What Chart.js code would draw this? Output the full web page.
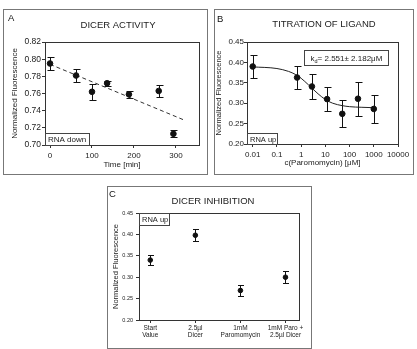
<!DOCTYPE html>
<html>
<head>
<meta charset="utf-8">
<script src="https://cdn.jsdelivr.net/npm/chart.js@4.4.1/dist/chart.umd.min.js"></script>
<style>
body { margin: 0; background: #fff; }
#wrap { position: relative; width: 417px; height: 349px; }
canvas { position: absolute; }
</style>
</head>
<body>
<div id="wrap">
  <canvas id="chartA" width="205" height="166" style="left:3px;top:9px"></canvas>
  <canvas id="chartB" width="200" height="166" style="left:214px;top:9px"></canvas>
  <canvas id="chartC" width="205" height="163" style="left:107px;top:186px"></canvas>
</div>
<script>
// A: dicer activity over time
var timeMin = [0, 62, 100, 136, 188, 259, 294];
var fluorA = [0.795, 0.781, 0.762, 0.772, 0.759, 0.763, 0.713];
var errA = [0.008, 0.008, 0.009, 0.003, 0.004, 0.007, 0.004];
var trendX = [0, 320];
var trendY = [0.794, 0.729];
var ticksAx = [0, 100, 200, 300];
var ticksAy = [0.70, 0.72, 0.74, 0.76, 0.78, 0.80, 0.82];

// B: titration of ligand
var conc = [0.01, 0.68, 2.78, 11.8, 50, 222, 1000];
var fluorB = [0.390, 0.363, 0.341, 0.310, 0.274, 0.311, 0.286];
var errB = [0.029, 0.027, 0.031, 0.029, 0.033, 0.042, 0.034];
var fitX = [0.01, 0.1, 0.3, 0.6, 1, 2, 3, 5, 10, 20, 50, 100, 300, 1000];
var fitY = [0.389, 0.385, 0.378, 0.370, 0.361, 0.345, 0.335, 0.323, 0.309, 0.300, 0.294, 0.2915, 0.290, 0.289];
var ticksBx = [0.01, 0.1, 1, 10, 100, 1000, 10000];
var ticksBxLabels = ['0.01', '0.1', '1', '10', '100', '1000', '10000'];
var ticksBy = [0.20, 0.25, 0.30, 0.35, 0.40, 0.45];

// C: dicer inhibition
var condLabels = [['Start', 'Value'], ['2.5µl', 'Dicer'], ['1mM', 'Paromomycin'], ['1mM Paro +', '2.5µl Dicer']];
var condPos = [0, 1, 2, 3];
var fluorC = [0.340, 0.398, 0.269, 0.300];
var errC = [0.0125, 0.0142, 0.013, 0.0142];
var ticksCy = [0.20, 0.25, 0.30, 0.35, 0.40, 0.45];

Chart.defaults.font.family = '"Liberation Sans", Arial, sans-serif';
Chart.defaults.color = '#222';

function pts(xs, ys) {
  return xs.map(function (x, i) { return { x: x, y: ys[i] }; });
}

var errorBarPlugin = {
  id: 'errorBars',
  beforeDatasetsDraw: function (chart) {
    var ds = chart.data.datasets[0];
    var xs = chart.scales.x, ys = chart.scales.y, ctx = chart.ctx;
    var cap = ds.capWidth || 3;
    ctx.save();
    ctx.strokeStyle = '#111';
    ctx.lineWidth = 1;
    ds.data.forEach(function (p, i) {
      var x = Math.round(xs.getPixelForValue(p.x)) + 0.5;
      var y1 = Math.round(ys.getPixelForValue(p.y + ds.errors[i])) + 0.5;
      var y2 = Math.round(ys.getPixelForValue(p.y - ds.errors[i])) + 0.5;
      ctx.beginPath();
      ctx.moveTo(x, y1); ctx.lineTo(x, y2);
      ctx.moveTo(x - cap, y1); ctx.lineTo(x + cap + 1, y1);
      ctx.moveTo(x - cap, y2); ctx.lineTo(x + cap + 1, y2);
      ctx.stroke();
    });
    ctx.restore();
  }
};

var panelPlugin = {
  id: 'panel',
  afterDraw: function (chart, args, o) {
    var ctx = chart.ctx, a = chart.chartArea;
    var L = Math.round(a.left) + 0.5, T = Math.round(a.top) + 0.5;
    var R = Math.round(a.right) + 0.5, B = Math.round(a.bottom) + 0.5;
    ctx.save();
    ctx.lineWidth = 1;
    ctx.strokeStyle = '#777';
    ctx.strokeRect(0.5, 0.5, chart.width - 1, chart.height - 1);
    ctx.strokeStyle = '#333';
    ctx.strokeRect(L, T, R - L, B - T);

    ctx.fillStyle = '#111';
    ctx.textBaseline = 'top';
    ctx.textAlign = 'left';
    ctx.font = '9.5px "Liberation Sans", Arial, sans-serif';
    ctx.fillText(o.letter, o.letterX, o.letterY);

    ctx.textAlign = 'center';
    ctx.textBaseline = 'middle';
    ctx.font = '9.5px "Liberation Sans", Arial, sans-serif';
    ctx.fillStyle = '#222';
    ctx.fillText(o.title, o.titleX, o.titleY);

    // note box in a corner of the plot
    var ny = o.noteAt === 'top' ? T : B - o.noteH;
    ctx.fillStyle = '#fff';
    ctx.fillRect(L, ny, o.noteW, o.noteH);
    ctx.strokeStyle = '#444';
    ctx.strokeRect(L, ny, o.noteW, o.noteH);
    ctx.fillStyle = '#222';
    ctx.textAlign = 'left';
    ctx.font = o.noteFont + 'px "Liberation Sans", Arial, sans-serif';
    ctx.fillText(o.note, L + 2.5, ny + o.noteH / 2 + 0.5);

    if (o.kd) {
      var kx = L + o.kd.dx, ky = T + o.kd.dy;
      ctx.strokeRect(kx, ky, o.kd.w, o.kd.h);
      var cy = ky + o.kd.h / 2 + 0.5;
      ctx.font = '8px "Liberation Sans", Arial, sans-serif';
      var tx = kx + 6;
      ctx.fillText('k', tx, cy);
      tx += ctx.measureText('k').width;
      ctx.font = '5.5px "Liberation Sans", Arial, sans-serif';
      ctx.fillText('d', tx, cy + 2.5);
      tx += ctx.measureText('d').width;
      ctx.font = '8px "Liberation Sans", Arial, sans-serif';
      ctx.fillText('= 2.551\u00b1 2.182\u03bcM', tx, cy);
    }
    ctx.restore();
  }
};

function axisStyle(extra) {
  var base = {
    grid: { drawOnChartArea: false, drawTicks: true, tickLength: 3, color: '#333' },
    border: { display: true, color: '#333' }
  };
  for (var k in extra) base[k] = extra[k];
  return base;
}

new Chart(document.getElementById('chartA'), {
  type: 'line',
  data: {
    datasets: [
      {
        data: pts(timeMin, fluorA), errors: errA, capWidth: 3,
        showLine: false, pointRadius: 2.8,
        pointBackgroundColor: '#111', pointBorderColor: '#111'
      },
      {
        data: pts(trendX, trendY), borderColor: '#333', borderWidth: 1,
        borderDash: [4, 3], pointRadius: 0
      }
    ]
  },
  options: {
    responsive: false,
    animation: false,
    layout: { padding: { top: 33, right: 9, left: 0, bottom: 0 } },
    plugins: {
      legend: { display: false },
      tooltip: { enabled: false },
      panel: {
        letter: 'A', letterX: 5, letterY: 5,
        title: 'DICER ACTIVITY', titleX: 115, titleY: 16,
        note: 'RNA down', noteAt: 'bottom', noteW: 44, noteH: 12, noteFont: 8
      }
    },
    scales: {
      x: axisStyle({
        type: 'linear', min: -12, max: 355,
        afterBuildTicks: function (s) { s.ticks = ticksAx.map(function (v) { return { value: v }; }); },
        afterFit: function (s) { s.height = 30; },
        ticks: { font: { size: 8 }, padding: 3, autoSkip: false, maxRotation: 0 },
        title: { display: true, text: 'Time [min]', font: { size: 8 }, padding: { top: 0, bottom: 5 } }
      }),
      y: axisStyle({
        min: 0.70, max: 0.82,
        afterBuildTicks: function (s) { s.ticks = ticksAy.map(function (v) { return { value: v }; }); },
        afterFit: function (s) { s.width = 42; },
        ticks: { font: { size: 8.5 }, padding: 1, callback: function (v) { return v.toFixed(2); } },
        title: { display: true, text: 'Normalized Fluorescence', font: { size: 8 }, padding: { top: 7, bottom: 0 } }
      })
    }
  },
  plugins: [errorBarPlugin, panelPlugin]
});

new Chart(document.getElementById('chartB'), {
  type: 'line',
  data: {
    datasets: [
      {
        data: pts(conc, fluorB), errors: errB, capWidth: 3,
        showLine: false, pointRadius: 2.8,
        pointBackgroundColor: '#111', pointBorderColor: '#111'
      },
      {
        data: pts(fitX, fitY), borderColor: '#222', borderWidth: 1,
        cubicInterpolationMode: 'monotone', pointRadius: 0
      }
    ]
  },
  options: {
    responsive: false,
    animation: false,
    layout: { padding: { top: 33, right: 16, left: 0, bottom: 0 } },
    plugins: {
      legend: { display: false },
      tooltip: { enabled: false },
      panel: {
        letter: 'B', letterX: 3, letterY: 6,
        title: 'TITRATION OF LIGAND', titleX: 110, titleY: 15,
        note: 'RNA up', noteAt: 'bottom', noteW: 30, noteH: 11, noteFont: 7.5,
        kd: { dx: 57, dy: 8, w: 84, h: 15 }
      }
    },
    scales: {
      x: axisStyle({
        type: 'logarithmic', min: 0.0058, max: 10000,
        afterBuildTicks: function (s) { s.ticks = ticksBx.map(function (v) { return { value: v }; }); },
        afterFit: function (s) { s.height = 31; },
        ticks: { font: { size: 8 }, padding: 3, autoSkip: false, maxRotation: 0,
          callback: function (v, i) { return ticksBxLabels[i]; } },
        title: { display: true, text: 'c(Paromomycin) [\u03bcM]', font: { size: 8 }, padding: { top: 0, bottom: 7 } }
      }),
      y: axisStyle({
        min: 0.20, max: 0.45,
        afterBuildTicks: function (s) { s.ticks = ticksBy.map(function (v) { return { value: v }; }); },
        afterFit: function (s) { s.width = 33; },
        ticks: { font: { size: 8 }, padding: 0, callback: function (v) { return v.toFixed(2); } },
        title: { display: true, text: 'Normalized Fluorescence', font: { size: 7.5 }, padding: { top: 0, bottom: 0 } }
      })
    }
  },
  plugins: [errorBarPlugin, panelPlugin]
});

new Chart(document.getElementById('chartC'), {
  type: 'line',
  data: {
    datasets: [
      {
        data: pts(condPos, fluorC), errors: errC, capWidth: 2.5,
        showLine: false, pointRadius: 2.3,
        pointBackgroundColor: '#111', pointBorderColor: '#111'
      }
    ]
  },
  options: {
    responsive: false,
    animation: false,
    layout: { padding: { top: 27, right: 13, left: 0, bottom: 0 } },
    plugins: {
      legend: { display: false },
      tooltip: { enabled: false },
      panel: {
        letter: 'C', letterX: 2, letterY: 4,
        title: 'DICER INHIBITION', titleX: 106, titleY: 15,
        note: 'RNA up', noteAt: 'top', noteW: 30, noteH: 12, noteFont: 7.5
      }
    },
    scales: {
      x: axisStyle({
        type: 'linear', min: -0.25, max: 3.3,
        afterBuildTicks: function (s) { s.ticks = condPos.map(function (v) { return { value: v }; }); },
        afterFit: function (s) { s.height = 29; },
        ticks: { font: { size: 6.5 }, padding: 1, autoSkip: false, maxRotation: 0,
          callback: function (v, i) { return condLabels[i]; } }
      }),
      y: axisStyle({
        min: 0.20, max: 0.45,
        afterBuildTicks: function (s) { s.ticks = ticksCy.map(function (v) { return { value: v }; }); },
        afterFit: function (s) { s.width = 32; },
        ticks: { font: { size: 5.5 }, padding: 3, callback: function (v) { return v.toFixed(2); } },
        title: { display: true, text: 'Normalized Fluorescence', font: { size: 7.5 }, padding: { top: 4.5, bottom: 0 } }
      })
    }
  },
  plugins: [errorBarPlugin, panelPlugin]
});
</script>
</body>
</html>
